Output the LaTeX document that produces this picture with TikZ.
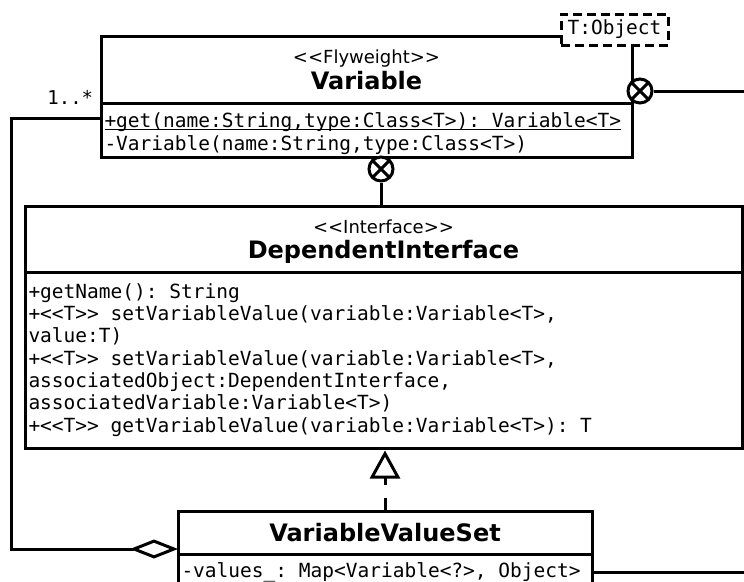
\documentclass[tikz,border=0pt]{standalone}
\usepackage{fontspec}
\setmainfont{DejaVu Sans}
\setmonofont{DejaVu Sans Mono}
\usetikzlibrary{arrows.meta,positioning}
\newcommand{\cname}[1]{{\fontsize{24}{25.5}\selectfont\bfseries #1}}
\newcommand{\ulinetext}[1]{\setbox0\hbox{#1}\rlap{\rule[-3pt]{\wd0}{1.4pt}}\box0}

\begin{document}
\begin{tikzpicture}[x=1pt,y=-1pt,line width=3pt,
 head/.style={draw,fill=white,outer sep=0pt,inner sep=0pt,align=center,
   text depth=0pt,font=\fontsize{18}{25.5}\selectfont},
 body/.style={draw,fill=white,outer sep=0pt,inner sep=0pt},
 ops/.style={anchor=north west,inner xsep=2pt,inner ysep=10pt,align=left,
   font=\ttfamily\fontsize{19.5}{22.3}\selectfont},
 param/.style={draw,fill=white,dash pattern=on 9pt off 5pt,outer sep=0pt,
   minimum width=107pt,minimum height=31pt,inner sep=0pt,
   font=\ttfamily\fontsize{19.5}{22.5}\selectfont},
 nest/.style={circle,draw,fill=white,minimum size=24pt,inner sep=0pt,
   path picture={\draw (path picture bounding box.north west)--(path picture bounding box.south east)
     (path picture bounding box.north east)--(path picture bounding box.south west);}},
 real/.style={dash pattern=on 13pt off 13pt,shorten >=2.5pt,
   -{Triangle[open,length=28pt,width=30pt]}},
 aggr/.style={-{Diamond[open,length=48pt,width=19pt]}}]
 \path[use as bounding box] (0,0) rectangle (744,581);
 \clip (0,0) rectangle (744,581);
 \node[head,minimum width=531pt,minimum height=67pt] (varhead) at (366.5,69.5)
   {<{}<Flyweight>{}>\\\cname{Variable}};
 \node[body,below=0pt of varhead,minimum width=531pt,minimum height=54pt] (varbody) {};
 \node[ops,inner ysep=8pt,font=\ttfamily\fontsize{19.5}{23}\selectfont] (varops) at (varbody.north west)
   {\ulinetext{+get(name:String,type:Class<T>): Variable<T>}\\
    -Variable(name:String,type:Class<T>)};
 \node[param] (tparam) at (614.5,29.5) {T:Object};
 \node[nest] (nestR) at (640,91) {};
 \node[nest] (nestB) at (381,169) {};
 \node[head,minimum width=717pt,minimum height=66pt] (dephead) at (383.5,239)
   {<{}<Interface>{}>\\\cname{DependentInterface}};
 \node[body,below=0pt of dephead,minimum width=717pt,minimum height=176pt] (depbody) {};
 \node[ops] (depops) at (depbody.north west)
   {+getName(): String\\
    +<<T>> setVariableValue(variable:Variable<T>,\\
    value:T)\\
    +<<T>> setVariableValue(variable:Variable<T>,\\
    associatedObject:DependentInterface,\\
    associatedVariable:Variable<T>)\\
    +<<T>> getVariableValue(variable:Variable<T>): T};
 \node[head,minimum width=414pt,minimum height=43pt] (vvshead) at (385,532.5)
   {\cname{VariableValueSet}};
 \node[body,below=0pt of vvshead,minimum width=414pt,minimum height=60pt] (vvsbody) {};
 \node[ops,inner ysep=7pt] (vvsops) at (vvsbody.north west)
   {-values\_: Map<Variable<?>, Object>};
 \coordinate (outR) at (760,91);
 \coordinate (outV) at (760,572);
 \draw (nestR) -- (outR);
 \draw (nestB) -- (nestB |- dephead.north);
 \draw[real] (vvshead.north) -- (vvshead.north |- depbody.south);
 \draw[aggr] ([yshift=-15pt]varbody.north west)
   node[anchor=base east,xshift=-3pt,yshift=14pt,font=\ttfamily\fontsize{19}{22}\selectfont]{1..*}
   -- ++(-90,0) |- ([yshift=-16.5pt]vvshead.west);
 \draw ([yshift=-18pt]vvsbody.north east) -- (outV);
\end{tikzpicture}
\end{document}
